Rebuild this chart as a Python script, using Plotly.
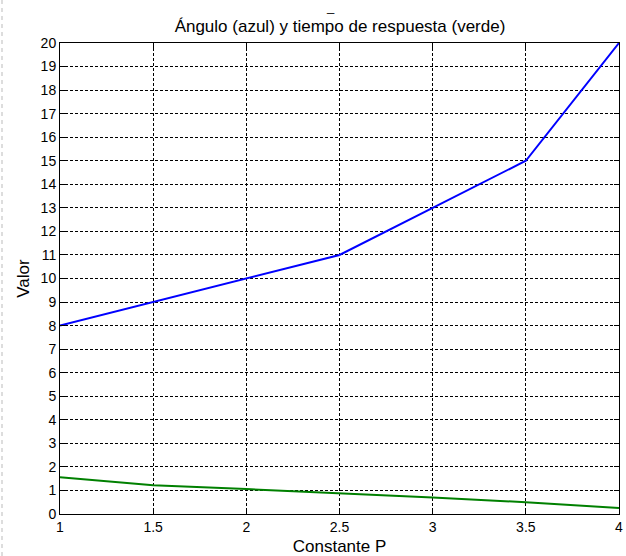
import plotly.graph_objects as go

constante_p = [1, 1.5, 2, 2.5, 3, 3.5, 4]
angulo = [8, 9, 10, 11, 13, 15, 20]
tiempo = [1.56, 1.22, 1.06, 0.89, 0.70, 0.50, 0.25]

x_ticks = [1, 1.5, 2, 2.5, 3, 3.5, 4]
x_labels = ["1", "1.5", "2", "2.5", "3", "3.5", "4"]
y_ticks = list(range(0, 21))

W, H = 626, 556
L, R, T, B = 60, 7, 43, 42
PW, PH = W - L - R, H - T - B

fig = go.Figure()
fig.add_trace(go.Scatter(x=constante_p, y=angulo, mode="lines",
                         line=dict(color="#0000ff", width=2), showlegend=False))
fig.add_trace(go.Scatter(x=constante_p, y=tiempo, mode="lines",
                         line=dict(color="#008000", width=2), showlegend=False))

font = "Liberation Sans, Arial, sans-serif"
axis_common = dict(
    showline=True, linecolor="black", linewidth=1, mirror="allticks",
    ticks="inside", ticklen=5, tickcolor="black", tickwidth=1,
    showgrid=True, gridcolor="black", gridwidth=1, griddash="3px,2px",
    zeroline=False, tickfont=dict(family=font, size=14, color="black"),
    ticklabeloverflow="allow", automargin=False,
)

fig.update_xaxes(range=[1, 4], tickvals=x_ticks, ticktext=x_labels,
                 title=dict(text="Constante P", font=dict(family=font, size=17, color="black"), standoff=10),
                 **axis_common)
fig.update_yaxes(range=[0, 20], tickvals=y_ticks,
                 title=dict(text="Valor", font=dict(family=font, size=17, color="black"), standoff=6),
                 **axis_common)

fig.update_layout(
    width=W, height=H,
    margin=dict(l=L, r=R, t=T, b=B, pad=0, autoexpand=False),
    paper_bgcolor="white", plot_bgcolor="white",
    title=dict(text="Ángulo (azul) y tiempo de respuesta (verde)",
               font=dict(family=font, size=17, color="black"),
               x=340 / W, xref="container", xanchor="center",
               y=1 - 26 / H, yref="container", yanchor="middle"),
    annotations=[dict(text="_", x=(330 - L) / PW, xref="paper",
                      y=1 + (T - 6) / PH, yref="paper", showarrow=False,
                      font=dict(family=font, size=13, color="black"),
                      xanchor="center", yanchor="middle")],
    shapes=[dict(type="line", xref="paper", yref="paper",
                 x0=(2 - L) / PW, x1=(2 - L) / PW,
                 y0=-B / PH, y1=1 + T / PH,
                 line=dict(color="#bbbbbb", width=1, dash="4px,4px"))],
)

fig.write_html("out.html", config={"displayModeBar": False},
               post_script="document.body.style.margin='0';document.body.style.overflow='hidden';")
